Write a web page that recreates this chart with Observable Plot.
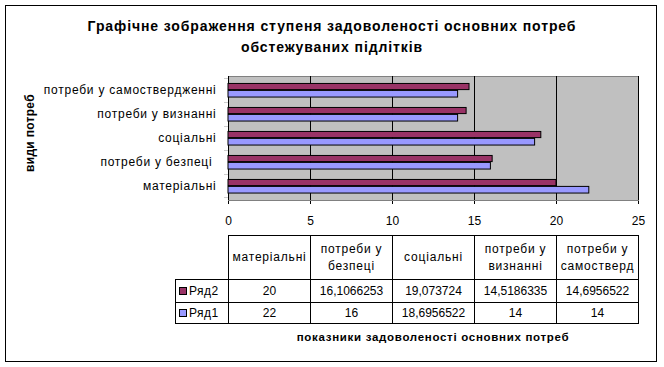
<!DOCTYPE html>
<html>
<head>
<meta charset="utf-8">
<script src="https://cdn.jsdelivr.net/npm/d3@7"></script>
<script src="https://cdn.jsdelivr.net/npm/@observablehq/plot@0.6"></script>
<style>
  html, body { margin: 0; padding: 0; background: #fff; }
  body { font-family: "Liberation Sans", Arial, sans-serif; color: #000; }
  #wrap { position: relative; width: 664px; height: 367px; overflow: hidden; background: #fff; }
  #border { position: absolute; left: 5px; top: 5px; width: 652px; height: 357px; box-sizing: border-box; border: 1px solid #000; }
  #title { position: absolute; left: 0; top: 16px; width: 664px; text-align: center; font-weight: bold; font-size: 14px; letter-spacing: 0.9px; line-height: 20.5px; }
  #ytitle { position: absolute; left: 30px; top: 133px; width: 200px; height: 14px; line-height: 14px; text-align: center; font-weight: bold; font-size: 12px; letter-spacing: 0.3px; transform: translate(-50%, -50%) rotate(-90deg); white-space: nowrap; }
  #xtitle { position: absolute; left: 228px; top: 330px; width: 410px; text-align: center; font-weight: bold; font-size: 11.5px; letter-spacing: 0.7px; line-height: 14px; white-space: nowrap; }
  #chart { position: absolute; left: 0; top: 0; }
  #chart svg g[aria-label="y-axis"] text, #chart svg g[aria-label="y-axis tick label"] text { letter-spacing: 0.75px; }
  #table { position: absolute; left: 175px; top: 235px; border-collapse: collapse; table-layout: fixed; font-size: 12px; }
  #table td { border: 1px solid #000; padding: 0; text-align: center; vertical-align: middle; overflow: hidden; line-height: 17px; }
  #table td.hdr { letter-spacing: 0.8px; }
  #table td.corner { border: none; }
  #table td.leg { text-align: left; padding-left: 3px; white-space: nowrap; letter-spacing: 0.5px; }
  .key { display: inline-block; width: 6px; height: 6px; border: 1px solid #000; margin-right: 2px; vertical-align: 0px; }
</style>
</head>
<body>
<div id="wrap">
  <div id="border"></div>
  <div id="chart"></div>
  <div id="title"></div>
  <div id="ytitle"></div>
  <div id="xtitle"></div>
  <table id="table"></table>
</div>
<script>
// ---- data ----
const categories = ["матеріальні", "потреби у безпеці\u00a0", "соціальні", "потреби у визнанні", "потреби у самоствердженні"];
const tableHeaders = ["матеріальні", "потреби у безпеці", "соціальні", "потреби у визнанні", "потреби у самостверд"];
const seriesNames = ["Ряд2", "Ряд1"];
const series2 = [20, 16.1066253, 19.073724, 14.5186335, 14.6956522];
const series1 = [22, 16, 18.6956522, 14, 14];
const xTicks = [0, 5, 10, 15, 20, 25];
const titleLines = ["Графічне зображення ступеня задоволеності основних потреб", "обстежуваних підлітків"];
const yTitle = "види потреб";
const xTitle = "показники задоволеності основних потреб";

// ---- layout / style ----
const W = 664, H = 367;
const mL = 228, mR = 26, mT = 76, mB = 167;
const bw = (H - mT - mB) / categories.length;
const colors = {"Ряд2": "#993366", "Ряд1": "#9999FF"};

const rows2 = categories.map((c, i) => ({cat: c, v: series2[i]}));
const rows1 = categories.map((c, i) => ({cat: c, v: series1[i]}));

const plot = Plot.plot({
  width: W, height: H,
  marginLeft: mL, marginRight: mR, marginTop: mT, marginBottom: mB,
  style: {fontFamily: "'Liberation Sans', Arial, sans-serif", fontSize: "12px", background: "transparent", color: "#000", overflow: "visible"},
  x: {domain: [xTicks[0], xTicks[xTicks.length - 1]], ticks: xTicks, tickSize: 4, tickPadding: 12, label: null, line: true},
  y: {domain: categories.slice().reverse(), padding: 0, tickSize: 0, tickPadding: 12, label: null},
  marks: [
    Plot.frame({fill: "#c0c0c0", stroke: "#808080"}),
    Plot.ruleX(xTicks.slice(1), {stroke: "#000", strokeWidth: 1}),
    Plot.ruleX([xTicks[0]], {stroke: "#000", strokeWidth: 1}),
    Plot.barX(rows2, {x: "v", y: "cat", fill: colors["Ряд2"], stroke: "#000", strokeWidth: 1, insetTop: bw * 0.22, insetBottom: bw * 0.5}),
    Plot.barX(rows1, {x: "v", y: "cat", fill: colors["Ряд1"], stroke: "#000", strokeWidth: 1, insetTop: bw * 0.5, insetBottom: bw * 0.2}),
    // category boundary ticks (Excel style, between categories)
    Plot.barX(categories, {y: d => d, x1: xTicks[0], x2: xTicks[0], insetLeft: -4, insetRight: 0, insetBottom: bw - 1, fill: "#000"}),
    Plot.barX(categories.slice(0, 1), {y: d => d, x1: xTicks[0], x2: xTicks[0], insetLeft: -4, insetRight: 0, insetTop: bw - 1, fill: "#000"})
  ]
});
document.getElementById("chart").appendChild(plot);
// widen Cyrillic tick labels slightly (Excel rendering)
plot.querySelectorAll("g[aria-label^='y-axis'] text").forEach(t => t.style.letterSpacing = "0.75px");

// titles
document.getElementById("title").innerHTML = titleLines.join("<br>");
document.getElementById("ytitle").textContent = yTitle;
document.getElementById("xtitle").textContent = xTitle;

// data table
const fmt = v => String(v).replace(".", ",");
const table = document.getElementById("table");
const cg = document.createElement("colgroup");
[53, 82, 82, 82, 82, 82].forEach(w => { const c = document.createElement("col"); c.style.width = w + "px"; cg.appendChild(c); });
table.appendChild(cg);
table.style.width = (53 + 5 * 82) + "px";
const hr = document.createElement("tr");
const corner = document.createElement("td"); corner.className = "corner"; hr.appendChild(corner);
tableHeaders.forEach(h => { const td = document.createElement("td"); td.className = "hdr"; td.textContent = h; td.style.height = "43px"; hr.appendChild(td); });
table.appendChild(hr);
[["Ряд2", series2, 22], ["Ряд1", series1, 20]].forEach(([name, vals, h]) => {
  const tr = document.createElement("tr");
  const lg = document.createElement("td"); lg.className = "leg"; lg.style.height = h + "px";
  const key = document.createElement("span"); key.className = "key"; key.style.background = colors[name];
  lg.appendChild(key); lg.appendChild(document.createTextNode(name));
  tr.appendChild(lg);
  vals.forEach(v => { const td = document.createElement("td"); td.textContent = fmt(v); tr.appendChild(td); });
  table.appendChild(tr);
});
</script>
</body>
</html>
